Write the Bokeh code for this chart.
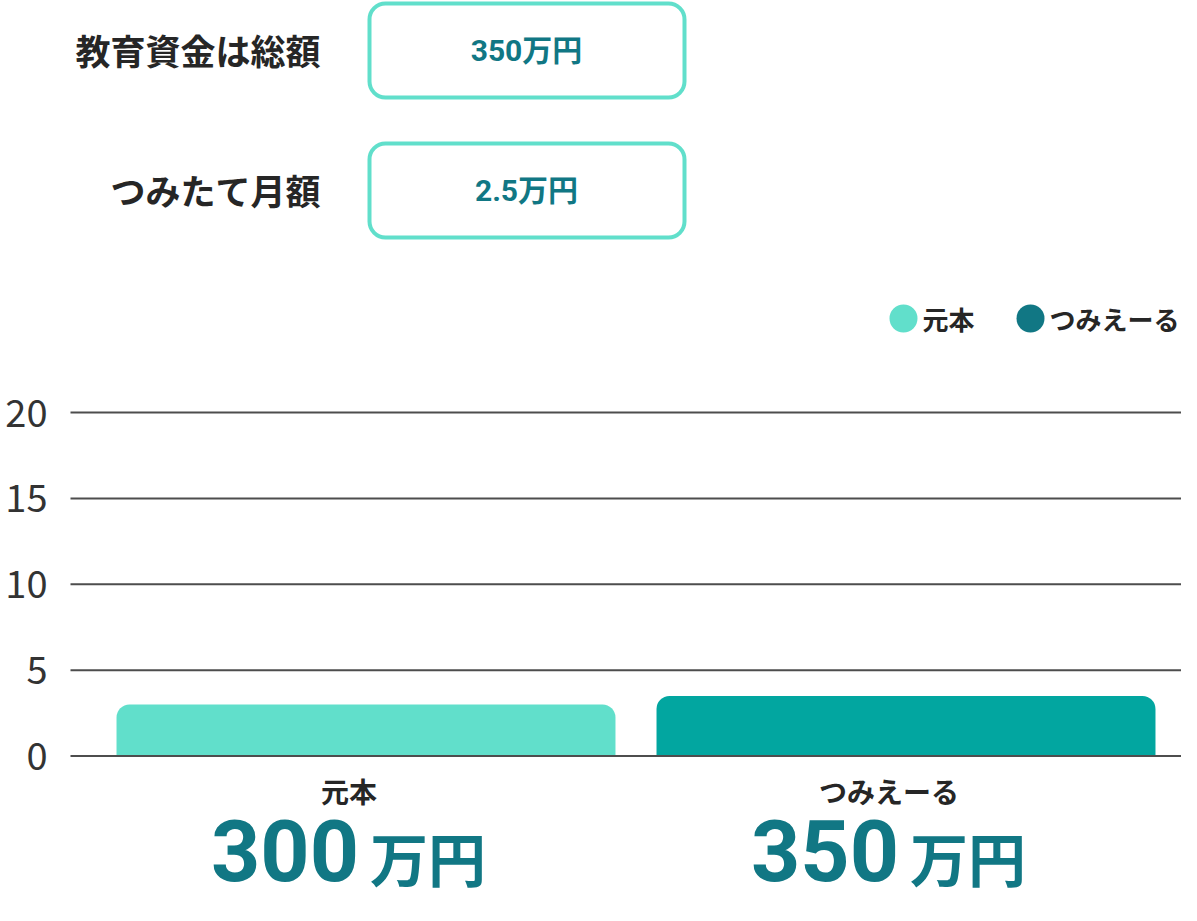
import numpy as np
from bokeh.plotting import figure
from bokeh.models import Range1d
from bokeh.core.properties import value
from bokeh.embed import file_html
from bokeh.resources import INLINE

# data
categories = ["元本", "つみえーる"]
amounts = [3.0, 3.5]  # 単位: 百万円
y_ticks = [0, 5, 10, 15, 20]
input_labels = ["教育資金は総額", "つみたて月額"]
input_values = [350, 2.5]  # 万円

# styles
LIGHT = "#61dfcb"
BAR2 = "#02a6a0"
DARK = "#117784"
TEXT = "#262626"
JP = value("Noto Sans CJK JP")
ROBOTO = value("Roboto, 'Noto Sans CJK JP'")

W, H = 1181, 905


def Y(py):
    # pixel row from the top -> y in the page range
    return H - py


p = figure(
    width=W, height=H,
    x_range=Range1d(0, W), y_range=Range1d(0, H),
    x_axis_type=None, y_axis_type=None,
    output_backend="svg", toolbar_location=None, tools="",
    min_border=0,
)
p.outline_line_color = None
p.background_fill_color = "white"

# value scale: 0 at row 755.5, 20 at row 412
zero_row, top_row = 755.5, 412.0
unit = (zero_row - top_row) / y_ticks[-1]
p.extra_y_ranges = {"val": Range1d(-Y(zero_row) / unit, (H - Y(zero_row)) / unit)}

# category scale: slot centres at 365.5 and 905.5 px
step = 540.0
x_start = 0.5 - 365.5 / step
p.extra_x_ranges = {"cat": Range1d(x_start, x_start + W / step)}
xs = list(np.arange(len(categories)) + 0.5)

# bars
p.vbar(x=xs, top=amounts, bottom=0, width=0.924,
       x_range_name="cat", y_range_name="val",
       fill_color=[LIGHT, BAR2], line_color=None,
       border_radius=(13, 13, 0, 0))

# grid lines + tick labels
p.segment(x0=70, x1=W, y0=y_ticks, y1=y_ticks, y_range_name="val",
          line_color="#4d4d4d", line_width=2)
p.text(x=47, y=y_ticks, text=[str(t) for t in y_ticks], y_range_name="val",
       text_align="right", text_baseline="middle",
       text_font=JP, text_font_size="38px", text_color="#333333")

# category labels
p.text(x=xs, y=Y(790), text=categories, x_range_name="cat", x_offset=-17,
       text_align="center", text_baseline="middle",
       text_font=JP, text_font_size="28px", text_font_style="bold", text_color=TEXT)

# big amounts under the bars
p.text(x=xs, y=Y(850), text=[f"{int(round(a * 100))}" for a in amounts],
       x_range_name="cat", x_offset=-7,
       text_align="right", text_baseline="middle",
       text_font=ROBOTO, text_font_size="86px", text_font_style="bold", text_color=DARK)
p.text(x=xs, y=Y(856), text=["万円"] * len(amounts),
       x_range_name="cat", x_offset=4,
       text_align="left", text_baseline="middle",
       text_font=JP, text_font_size="58px", text_font_style="bold", text_color=DARK)

# legend
p.scatter(x=[903, 1030], y=Y(318), size=28, marker="circle",
          fill_color=[LIGHT, DARK], line_color=None)
p.text(x=[922, 1049], y=Y(318), text=categories,
       text_align="left", text_baseline="middle",
       text_font=JP, text_font_size="26px", text_font_style="bold", text_color=TEXT)

# input rows
box_rows = [(3, 97), (143, 237)]
p.quad(left=369, right=684,
       top=[Y(r[0]) for r in box_rows], bottom=[Y(r[1]) for r in box_rows],
       fill_color="white", line_color=LIGHT, line_width=4, border_radius=16)
p.text(x=526, y=[Y((r[0] + r[1]) / 2) for r in box_rows],
       text=[f"{v:g}万円" for v in input_values],
       text_align="center", text_baseline="middle",
       text_font=ROBOTO, text_font_size="30px", text_font_style="bold", text_color=DARK)
p.text(x=320, y=[Y((r[0] + r[1]) / 2 - 1) for r in box_rows], text=input_labels,
       text_align="right", text_baseline="middle",
       text_font=JP, text_font_size="35px", text_font_style="bold", text_color=TEXT)

open("out.html", "w", encoding="utf-8").write(file_html(p, INLINE, "教育資金"))
